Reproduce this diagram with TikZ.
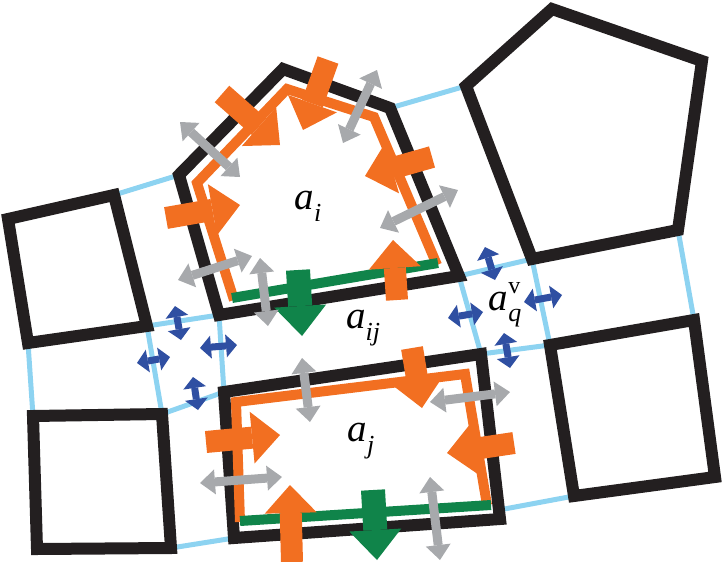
\documentclass[tikz,border=0pt]{standalone}
\usepackage{fontspec}
\setmainfont{Liberation Serif}
\usepackage{tikz}
\usetikzlibrary{arrows.meta}
\definecolor{cellblack}{HTML}{231F20}
\definecolor{meshblue}{HTML}{8DD3F1}
\definecolor{fluxorange}{HTML}{F26F21}
\definecolor{fluxgreen}{HTML}{10844A}
\definecolor{fluxgray}{HTML}{A7A9AC}
\definecolor{vertblue}{HTML}{2F4FA2}
\newcommand{\cellsub}[1]{\textit{a}\raisebox{-0.3em}{\fontsize{26}{26}\selectfont\textit{#1}}}
\newcommand{\vertsub}[2]{\textit{a}\rlap{\raisebox{0.42em}{\fontsize{24}{24}\selectfont #2}}\raisebox{-0.3em}{\fontsize{26}{26}\selectfont\textit{#1}}}

\begin{document}
\begin{tikzpicture}[x=1pt,y=-1pt,
cell/.style={draw=cellblack,line width=12pt,line join=miter},
mesh/.style={draw=meshblue,line width=5pt},
rim/.style={draw=fluxorange,line width=10pt,line join=miter},
base/.style={draw=fluxgreen,line width=10pt},
influx/.style={draw=fluxorange,line width=22pt,-{Triangle[length=28pt,width=52pt,line width=0pt]}},
outflux/.style={draw=fluxgreen,line width=24pt,-{Triangle[length=30pt,width=52pt,line width=0pt]}},
swap/.style={draw=fluxgray,line width=9pt,{Triangle[length=15pt,width=25pt,line width=0pt]}-{Triangle[length=15pt,width=25pt,line width=0pt]}},
vswap/.style={draw=vertblue,line width=7pt,{Triangle[length=11pt,width=23pt,line width=0pt]}-{Triangle[length=11pt,width=23pt,line width=0pt]}},
lbl/.style={font=\fontsize{39}{43}\selectfont,inner sep=0pt}]
\useasboundingbox (0,0) rectangle (723,562);

% cell vertices
\coordinate (i1) at (219,315); \coordinate (i2) at (179,175); \coordinate (i3) at (283,69);
\coordinate (i4) at (390,108); \coordinate (i5) at (459,276);
\coordinate (j1) at (224,392); \coordinate (j2) at (481,354);
\coordinate (j3) at (500,519); \coordinate (j4) at (234,538);
\coordinate (jr) at (499,510);
\coordinate (lt1) at (8,219); \coordinate (lt2) at (114,195);
\coordinate (lt3) at (147,326); \coordinate (lt4) at (28,343);
\coordinate (bl1) at (33,416); \coordinate (bl2) at (162,414);
\coordinate (bl3) at (171,548); \coordinate (bl4) at (37,549);
\coordinate (p1) at (552,9); \coordinate (p2) at (702,61); \coordinate (p3) at (678,230);
\coordinate (p4) at (532,259); \coordinate (p5) at (466,86);
\coordinate (rs1) at (550,345); \coordinate (rs2) at (694,320);
\coordinate (rs3) at (715,477); \coordinate (rs4) at (574,496);

% mesh edges
\draw[mesh] (lt2) -- (i2);
\draw[mesh] (i4) -- (p5);
\draw[mesh] (i5) -- (p4) -- (rs1);
\draw[mesh] (p3) -- (rs2);
\draw[mesh] (i5) -- (j2) -- (rs1);
\draw[mesh] (jr) -- (rs4);
\draw[mesh] (i1) -- (lt3) -- (bl2) -- (j1) -- (i1);
\draw[mesh] (lt4) -- (bl1);
\draw[mesh] (bl3) -- (j4);

% cells
\draw[cell] (i1) -- (i2) -- (i3) -- (i4) -- (i5) -- cycle;
\draw[cell] (j1) -- (j2) -- (j3) -- (j4) -- cycle;
\draw[cell] (lt1) -- (lt2) -- (lt3) -- (lt4) -- cycle;
\draw[cell] (bl1) -- (bl2) -- (bl3) -- (bl4) -- cycle;
\draw[cell] (p1) -- (p2) -- (p3) -- (p4) -- (p5) -- cycle;
\draw[cell] (rs1) -- (rs2) -- (rs3) -- (rs4) -- cycle;

% boundary of a_i and a_j
\draw[rim] (234,300) -- (197,183) -- (287,89) -- (374,117) -- (437,265);
\draw[base] (232,298) -- (438,263);
\draw[rim] (240,522) -- (236,402) -- (465,374) -- (487,505);
\draw[base] (240,521) -- (491,505);

% fluxes
\draw[influx] (222,94) -- (280,145);
\draw[influx] (328,60) -- (303,130);
\draw[influx] (432,157) -- (365,176);
\draw[influx] (166,218) -- (240,205);
\draw[influx] (397,300) -- (393,240);
\draw[outflux] (298,270) -- (302,336);
\draw[influx] (412,348) -- (422,408);
\draw[influx] (206,442) -- (280,435);
\draw[influx] (514,443) -- (447,453);
\draw[influx] (292,562) -- (290,485);
\draw[outflux] (373,490) -- (377,560);

\draw[swap] (180,122) -- (240,177);
\draw[swap] (377,70) -- (343,143);
\draw[swap] (458,190) -- (380,228);
\draw[swap] (178,280) -- (252,256);
\draw[swap] (260,258) -- (268,326);
\draw[swap] (302,358) -- (310,422);
\draw[swap] (430,402) -- (510,392);
\draw[swap] (200,483) -- (282,477);
\draw[swap] (430,477) -- (440,560);

% vertex exchange
\draw[vswap] (485,247) -- (495,280);
\draw[vswap] (524,302) -- (562,295);
\draw[vswap] (504,333) -- (510,368);
\draw[vswap] (448,318) -- (483,312);
\draw[vswap] (175,306) -- (181,340);
\draw[vswap] (137,363) -- (170,357);
\draw[vswap] (200,348) -- (237,345);
\draw[vswap] (193,377) -- (198,410);

\node[lbl] (ai) at (308,206) {\cellsub{i}};
\node[lbl] (aij) at (363,328) {\cellsub{ij}};
\node[lbl] (aj) at (361,441) {\cellsub{j}};
\node[lbl] (aq) at (505,305) {\vertsub{q}{v}};
\end{tikzpicture}
\end{document}
